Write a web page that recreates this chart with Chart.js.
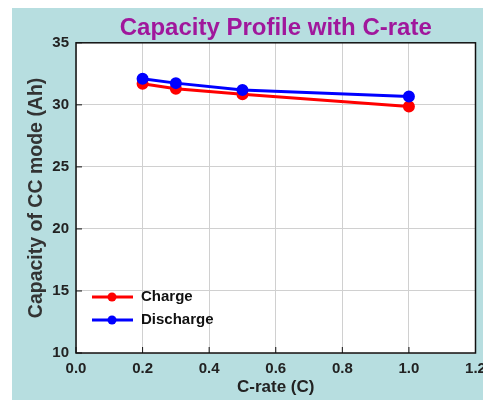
<!DOCTYPE html>
<html lang="en">
<head>
  <meta charset="UTF-8">
  <title>Capacity Profile with C-rate</title>
  <script src="https://cdn.jsdelivr.net/npm/chart.js"></script>
  <style>
    * {
      margin: 0;
      padding: 0;
      box-sizing: border-box;
    }

    body {
      background: #fff;
      width: 483px;
      height: 400px;
      overflow: hidden;
    }

    .wrap {
      position: relative;
      width: 483px;
      height: 400px;
    }
  </style>
</head>
<body>
  <div class="wrap"><canvas id="capChart"></canvas></div>

  <script>
    // values
    const cRates = [0.2, 0.3, 0.5, 1.0];
    const chargeAh = [31.7, 31.3, 30.85, 29.87];
    const dischargeAh = [32.1, 31.75, 31.2, 30.67];
    const seriesNames = ['Charge', 'Discharge'];
    const seriesColors = ['#ff0000', '#0000ff'];
    const xTicks = [0, 0.2, 0.4, 0.6, 0.8, 1.0, 1.2];
    const yTicks = [10, 15, 20, 25, 30, 35];

    const FONT = "'Liberation Sans', Arial, sans-serif";

    // light blue panel, white plot, black frame with inward ticks
    const framePlugin = {
      id: 'frame',
      beforeDraw(chart) {
        const { ctx, chartArea: a } = chart;
        ctx.save();
        ctx.fillStyle = '#b7dee0';
        ctx.fillRect(12, 8, chart.width - 12, chart.height - 8);
        ctx.fillStyle = '#fff';
        ctx.fillRect(a.left, a.top, a.right - a.left, a.bottom - a.top);
        ctx.restore();
      },
      beforeDatasetsDraw(chart) {
        const { ctx, chartArea: a, scales } = chart;
        ctx.save();
        ctx.strokeStyle = '#111';
        ctx.lineWidth = 1;
        ctx.beginPath();
        yTicks.forEach(v => {
          const y = scales.y.getPixelForValue(v);
          ctx.moveTo(a.left, y);
          ctx.lineTo(a.left + 6, y);
        });
        xTicks.forEach(v => {
          const x = scales.x.getPixelForValue(v);
          ctx.moveTo(x, a.bottom);
          ctx.lineTo(x, a.bottom - 6);
        });
        ctx.stroke();
        ctx.lineWidth = 1.5;
        ctx.strokeRect(a.left, a.top, a.right - a.left, a.bottom - a.top);
        ctx.restore();
      },
      afterDraw(chart) {
        const { ctx, chartArea: a } = chart;
        ctx.save();
        seriesNames.forEach((name, i) => {
          const y = a.bottom - 56 + i * 23;
          ctx.strokeStyle = seriesColors[i];
          ctx.fillStyle = seriesColors[i];
          ctx.lineWidth = 3;
          ctx.beginPath();
          ctx.moveTo(a.left + 16, y);
          ctx.lineTo(a.left + 57, y);
          ctx.stroke();
          ctx.beginPath();
          ctx.arc(a.left + 36, y, 4.5, 0, Math.PI * 2);
          ctx.fill();
          ctx.fillStyle = '#111';
          ctx.font = 'bold 15px ' + FONT;
          ctx.textBaseline = 'middle';
          ctx.fillText(name, a.left + 65, y);
        });
        ctx.restore();
      }
    };

    const points = vals => cRates.map((x, i) => ({ x: x, y: vals[i] }));

    new Chart(document.getElementById('capChart'), {
      type: 'line',
      data: {
        datasets: [{
          label: seriesNames[0],
          data: points(chargeAh),
          borderColor: seriesColors[0],
          backgroundColor: seriesColors[0],
          borderWidth: 3,
          pointRadius: 4.5,
          order: 1
        }, {
          label: seriesNames[1],
          data: points(dischargeAh),
          borderColor: seriesColors[1],
          backgroundColor: seriesColors[1],
          borderWidth: 3,
          pointRadius: 4.5,
          order: 0
        }]
      },
      options: {
        responsive: true,
        maintainAspectRatio: false,
        animation: false,
        layout: { padding: { left: 0, right: 5, top: 0, bottom: 0 } },
        plugins: {
          legend: { display: false },
          tooltip: { enabled: false },
          title: {
            display: true,
            text: 'Capacity Profile with C-rate',
            color: '#a0179c',
            fullSize: false,
            font: { family: FONT, size: 24, weight: 'bold' },
            padding: { top: 14, bottom: 0 }
          }
        },
        scales: {
          x: {
            type: 'linear',
            min: 0,
            max: 1.2,
            afterBuildTicks: s => { s.ticks = xTicks.map(v => ({ value: v })); },
            afterFit: s => { s.height = 47; s.paddingLeft = 0; s.paddingRight = 0; },
            grid: { color: '#d0d0d0', drawTicks: false },
            border: { display: false },
            ticks: {
              color: '#222',
              padding: 7,
              font: { family: FONT, size: 15, weight: 'bold' },
              callback: v => v.toFixed(1)
            },
            title: {
              display: true,
              text: 'C-rate (C)',
              color: '#222',
              font: { family: FONT, size: 17, weight: 'bold' },
              padding: { top: 0, bottom: 2 }
            }
          },
          y: {
            min: 10,
            max: 35,
            afterBuildTicks: s => { s.ticks = yTicks.map(v => ({ value: v })); },
            afterFit: s => { s.width = 76; s.paddingTop = 0; s.paddingBottom = 0; },
            grid: { color: '#d0d0d0', drawTicks: false },
            border: { display: false },
            ticks: {
              color: '#222',
              padding: 7,
              font: { family: FONT, size: 15, weight: 'bold' }
            },
            title: {
              display: true,
              text: 'Capacity of CC mode (Ah)',
              color: '#333',
              font: { family: FONT, size: 19.5, weight: 'bold' },
              padding: { top: 25, bottom: 0 }
            }
          }
        }
      },
      plugins: [framePlugin]
    });
  </script>
</body>
</html>
